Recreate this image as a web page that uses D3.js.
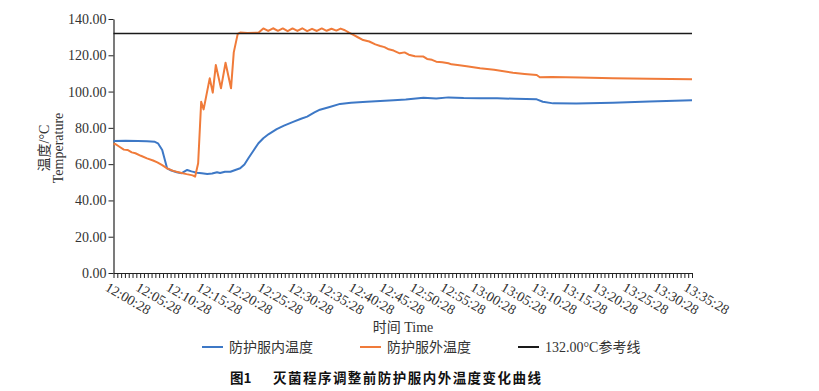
<!DOCTYPE html>
<html>
<head>
<meta charset="utf-8">
<script src="https://cdn.jsdelivr.net/npm/d3@7"></script>
<style>
  html, body { margin: 0; padding: 0; background: #fff; }
  svg { display: block; }
</style>
</head>
<body>
<svg id="chart" width="819" height="391"></svg>
<script>
// ---------- data ----------
const timeLabels = ["12:00:28","12:05:28","12:10:28","12:15:28","12:20:28","12:25:28","12:30:28",
  "12:35:28","12:40:28","12:45:28","12:50:28","12:55:28","13:00:28","13:05:28","13:10:28",
  "13:15:28","13:20:28","13:25:28","13:30:28","13:35:28"];
const yTicks = [0, 20, 40, 60, 80, 100, 120, 140];
const seriesNames = ["防护服内温度", "防护服外温度", "132.00°C参考线"];
const referenceValue = 132;

// minutes after 12:00:28
const innerTime = [0,2,4,5.5,6.8,7.3,8.0,8.8,9.5,10.4,11.2,12.1,12.8,13.7,14.5,15.4,16.2,17.0,17.5,18.3,
  19.2,20.0,20.8,21.5,22.2,23.0,23.8,24.6,25.5,26.8,28.0,29.6,30.8,31.8,33.0,33.9,35.5,37.2,39.0,41.6,
  43.8,46.0,48.0,50.9,53.0,55.0,57.5,60.2,63.0,66.0,69.5,70.5,72.2,76.0,82.0,88.0,95.0];
const innerTemp = [72.8,72.9,72.8,72.6,72.3,71.5,67.8,57.7,56.5,55.5,55.0,56.8,56.0,55.3,55.0,54.6,54.8,55.5,55.1,55.8,
  55.8,56.8,57.7,59.8,63.5,67.5,71.5,74.3,76.6,79.3,81.2,83.4,85.0,86.2,88.5,90.0,91.5,93.2,93.8,94.4,
  94.8,95.2,95.6,96.6,96.2,96.8,96.4,96.3,96.3,96.0,95.7,94.4,93.5,93.4,93.9,94.5,95.2];

const outerTime = [0,0.3,1.1,1.7,2.3,3.0,3.6,4.5,5.5,6.5,7.2,8.0,8.8,9.8,11.0,12.0,13.0,13.4,13.9,14.4,
  14.8,15.8,16.3,16.8,17.65,18.4,19.3,19.75,20.4,20.8,22.0,23.8,24.6,25.4,26.2,27.0,27.8,28.6,29.4,30.2,
  31.0,31.8,32.6,33.4,34.2,35.0,35.8,36.6,37.3,38.0,38.6,39.4,40.2,41.0,42.0,43.0,43.8,44.5,45.2,46.0,
  47.0,47.8,48.5,49.5,50.9,51.5,52.3,53.0,54.0,55.0,55.5,56.5,58.0,60.2,62.5,65.6,67.5,69.5,70.0,72.0,
  76.6,82.0,88.0,95.0];
const outerTemp = [71.0,71.1,69.3,68.0,67.8,66.5,66.0,64.6,63.2,62.0,61.0,59.5,57.7,56.3,55.3,54.5,53.8,53.1,60.5,94.4,
  90.2,107.3,99.4,114.6,101.8,115.9,101.8,121.6,131.8,132.5,132.3,132.4,134.8,133.4,134.9,133.5,134.8,133.3,134.8,133.4,
  134.9,133.3,134.6,133.4,134.8,133.5,134.6,133.6,134.7,133.8,132.6,131.2,129.8,128.4,127.6,126.0,125.1,124.5,123.3,122.6,
  121.1,121.6,120.3,119.5,119.3,118.0,117.5,116.5,116.2,115.6,115.0,114.6,114.0,112.8,112.0,110.4,109.7,109.1,107.9,108.0,
  107.8,107.3,107.0,106.8];

// ---------- chart ----------
const svg = d3.select("#chart");
const colors = ["#3d78c6", "#f07b3a", "#1a1a1a"];
const serif = "'Liberation Serif','Times New Roman','Noto Sans CJK SC',serif";

const x = d3.scaleLinear().domain([0, 95]).range([113.5, 692]);
const y = d3.scaleLinear().domain([0, 140]).range([273, 19]);

// y axis
const yAxis = svg.append("g").attr("transform", "translate(113.5,0)")
  .call(d3.axisLeft(y).tickValues(yTicks).tickFormat(d3.format(".2f")).tickSize(5).tickSizeOuter(0).tickPadding(2));
yAxis.select(".domain").attr("stroke", "#222").attr("stroke-width", 1.2);
yAxis.selectAll(".tick line").attr("stroke", "#222");
yAxis.selectAll("text").attr("font-family", serif).attr("font-size", 14).attr("fill", "#333");

// x axis: minor ticks
const xAxis = svg.append("g").attr("transform", "translate(0,273)")
  .call(d3.axisBottom(x).tickValues(d3.range(0, 95.001, 0.625)).tickFormat("").tickSize(5).tickSizeOuter(0));
xAxis.select(".domain").attr("stroke", "#222").attr("stroke-width", 1.2);
xAxis.selectAll(".tick line").attr("stroke", "#222");

// x labels rotated
svg.append("g").selectAll("text").data(timeLabels).join("text")
  .attr("transform", (d, i) => `translate(${x(i * 5) - 4},${281}) rotate(30)`)
  .attr("dy", "0.75em")
  .attr("text-anchor", "start")
  .attr("font-family", serif).attr("font-size", 14).attr("fill", "#333")
  .text(d => d);

// axis titles
svg.append("text").attr("x", 403).attr("y", 332).attr("text-anchor", "middle")
  .attr("font-family", serif).attr("font-size", 14).attr("fill", "#333").text("时间 Time");

const yt = svg.append("text").attr("transform", "translate(0,148) rotate(-90)")
  .attr("text-anchor", "middle").attr("font-family", serif).attr("font-size", 14).attr("fill", "#333");
yt.append("tspan").attr("x", 0).attr("y", 49).text("温度/°C");
yt.append("tspan").attr("x", 0).attr("y", 63).text("Temperature");

// lines
const line = d3.line().x(d => x(d[0])).y(d => y(d[1]));
svg.append("path").datum(innerTime.map((t, i) => [t, innerTemp[i]]))
  .attr("d", line).attr("fill", "none").attr("stroke", colors[0]).attr("stroke-width", 2).attr("stroke-linejoin", "round");
svg.append("path").datum(outerTime.map((t, i) => [t, outerTemp[i]]))
  .attr("d", line).attr("fill", "none").attr("stroke", colors[1]).attr("stroke-width", 2).attr("stroke-linejoin", "round");
svg.append("path").datum([[0, referenceValue], [95, referenceValue]])
  .attr("d", line).attr("fill", "none").attr("stroke", colors[2]).attr("stroke-width", 1.3);

// legend
const legendX = [202, 360, 518];
const lg = svg.append("g").selectAll("g").data(seriesNames).join("g")
  .attr("transform", (d, i) => `translate(${legendX[i]},347)`);
lg.append("line").attr("x1", 0).attr("x2", 21).attr("y1", 0).attr("y2", 0)
  .attr("stroke", (d, i) => colors[i]).attr("stroke-width", 2);
lg.append("text").attr("x", 27).attr("y", 5).attr("font-family", serif).attr("font-size", 14)
  .attr("fill", "#333").text(d => d);

// caption
svg.append("text").attr("x", 230).attr("y", 383).attr("font-family", "'Noto Sans CJK SC',sans-serif")
  .attr("font-size", 13.5).attr("font-weight", "bold").attr("fill", "#111").text("图1");
svg.append("text").attr("x", 273).attr("y", 383).attr("font-family", "'Noto Sans CJK SC',sans-serif")
  .attr("font-size", 13.5).attr("font-weight", "bold").attr("fill", "#111")
  .attr("textLength", 268).attr("lengthAdjust", "spacing")
  .text("灭菌程序调整前防护服内外温度变化曲线");
</script>
</body>
</html>
